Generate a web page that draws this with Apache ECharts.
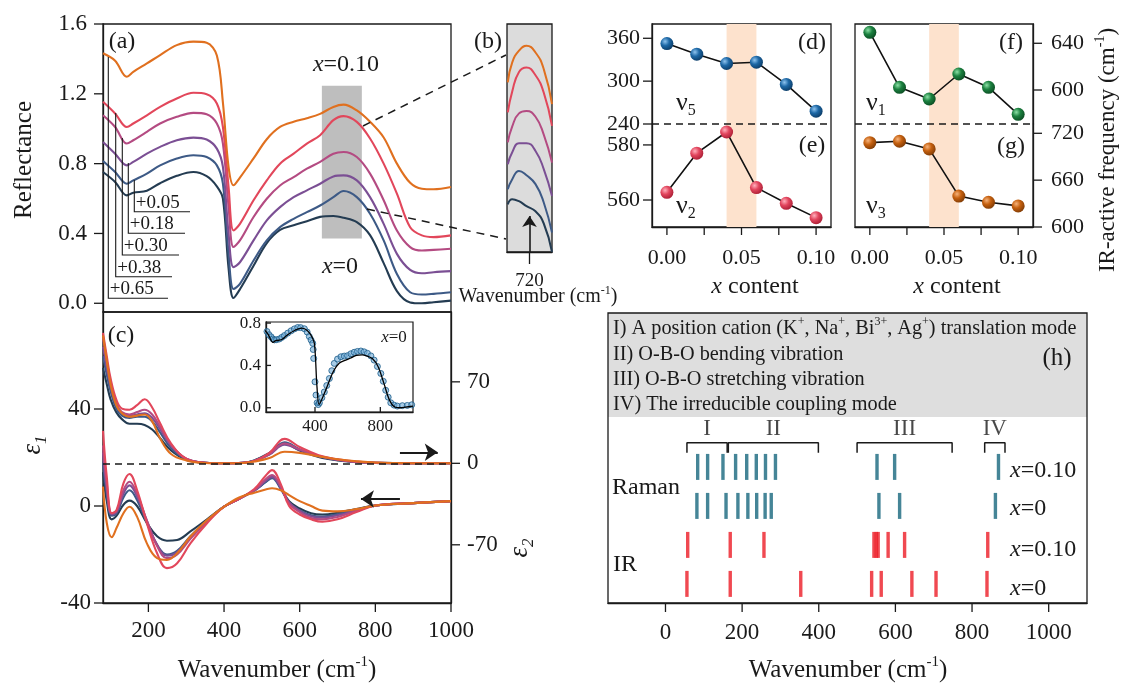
<!DOCTYPE html>
<html>
<head>
<meta charset="utf-8">
<script src="https://cdn.jsdelivr.net/npm/echarts@6.0.0/dist/echarts.min.js"></script>
<style>
html,body{margin:0;padding:0;background:#ffffff;}
#chart{width:1127px;height:686px;}
</style>
</head>
<body>
<div id="chart"></div>
<script>
// ================= DATA =================
const offsetLabels = ['+0.05', '+0.18', '+0.30', '+0.38', '+0.65'];

// (a) reflectance spectra as displayed (offsets included), x = 0 ... 0.10
const wnA = [80,112,143,160,196,231,275,319,354,381,397,412,425,442,478,513,548,584,619,654,689,716,751,786,822,857,892,923,954,1000];
const reflX000 = [0.752,0.695,0.618,0.633,0.645,0.688,0.730,0.752,0.728,0.670,0.600,0.200,0.030,0.080,0.215,0.345,0.420,0.447,0.470,0.495,0.500,0.490,0.465,0.390,0.230,0.070,0.005,0.000,0.006,0.015];
const reflX002 = [0.815,0.752,0.685,0.704,0.743,0.790,0.829,0.848,0.838,0.790,0.685,0.283,0.082,0.111,0.245,0.360,0.436,0.484,0.522,0.560,0.608,0.643,0.608,0.513,0.360,0.168,0.063,0.050,0.054,0.063];
const reflX004 = [0.924,0.857,0.790,0.810,0.857,0.896,0.934,0.949,0.938,0.886,0.781,0.398,0.207,0.235,0.360,0.475,0.551,0.608,0.647,0.685,0.727,0.733,0.704,0.608,0.455,0.283,0.191,0.172,0.178,0.184];
const reflX006 = [1.077,1.010,0.915,0.934,0.982,1.030,1.068,1.091,1.083,1.030,0.915,0.551,0.322,0.360,0.494,0.599,0.675,0.723,0.771,0.810,0.857,0.867,0.838,0.743,0.590,0.417,0.322,0.302,0.306,0.312];
const reflX008 = [1.154,1.087,1.010,1.030,1.077,1.125,1.173,1.206,1.198,1.145,1.010,0.666,0.417,0.455,0.590,0.704,0.800,0.857,0.915,0.963,1.049,1.072,1.039,0.944,0.800,0.628,0.436,0.389,0.379,0.389];
const reflX010 = [1.432,1.390,1.298,1.326,1.374,1.422,1.479,1.499,1.493,1.420,1.150,0.780,0.676,0.720,0.830,0.940,1.010,1.040,1.060,1.085,1.125,1.138,1.105,1.040,0.950,0.800,0.690,0.656,0.653,0.666];

// (b) magnified view around 720 cm-1
const wnB = [691,697,706,716,728,739,750];
const zoomX000 = [0.554,0.574,0.566,0.547,0.527,0.480,0.370];
const zoomX002 = [0.612,0.651,0.683,0.666,0.632,0.561,0.445];
const zoomX004 = [0.709,0.755,0.790,0.790,0.760,0.690,0.586];
const zoomX006 = [0.793,0.855,0.905,0.914,0.892,0.823,0.715];
const zoomX008 = [0.909,0.990,1.065,1.082,1.052,0.985,0.857];
const zoomX010 = [1.025,1.102,1.147,1.166,1.140,1.076,0.941];

// (c) dielectric functions
const wnE2 = [80,90,100,115,130,150,170,190,210,230,260,300,350,400,450,480,520,560,600,650,700,750,800,900,1000];
const eps2X000 = [82,68,55,44,38,34,34,33,29,22,11,3,0.5,0,0.5,2.5,9,17,11,5.5,2.5,1,0.3,0,0];
const eps2X002 = [92,76,62,47,41,39,40,40,36,27,13,3.5,0.5,0,0.5,2.5,8,18,12,6,3,1.2,0.4,0,0];
const eps2X004 = [100,82,66,50,43,41,42,43,39,30,15,4,0.5,0,0.5,2,7.5,16,11.5,6,3,1.2,0.4,0,0];
const eps2X006 = [108,88,70,52,44,42,44,46,42,32,16,4,0.5,0,0.5,2,8,17,12,6.5,3,1.2,0.5,0,0];
const eps2X008 = [112,92,73,55,47,46,50,55,48,35,17,4,0.5,0,0.5,2,9,21,14,7,3.5,1.5,0.5,0,0];
const eps2X010 = [110,88,68,50,43,40,41,42,36,22,8,2.5,0.3,0,0.3,1.5,4.5,10,9,6,3.5,1.8,0.7,0.1,0];

const wnE1 = [80,90,103,116,134,150,170,196,223,249,276,311,355,400,440,480,510,527,550,572,600,630,660,700,750,800,900,1000];
const eps1X000 = [14,2,-5.5,-4,0.5,2.2,0,-7,-12.5,-14.3,-14,-10.5,-5.5,-0.3,3,6.5,10,12,7.5,2,-1,-3,-3.5,-2.8,-1.2,0.2,1.2,2];
const eps1X002 = [18,5,-4,-3,3.5,6.5,2.5,-7,-16,-20,-18.5,-12.5,-6,-0.3,3,6.3,9.8,11.5,7,1.5,-1.8,-3.8,-4.3,-3.3,-1.5,0.2,1.2,2];
const eps1X004 = [22,7,-3.5,-2.5,5,8.5,4,-6,-16,-20.5,-19,-13,-6.3,-0.3,3,6.3,10.3,12,7.5,1.5,-2,-4.2,-4.8,-3.8,-1.8,0.2,1.2,2];
const eps1X006 = [25,9,-3,-2,6.5,10,5,-6,-16.5,-21.5,-20,-13.5,-6.5,-0.3,3,6.5,11,12.8,8,1,-2.5,-5,-5.5,-4.5,-2,0.2,1.2,2];
const eps1X008 = [31,12,-3,-1.6,9.3,13.2,6.6,-7.1,-19.5,-25.6,-23.6,-15.4,-7.1,-0.3,3,7,12.5,14.8,9,0,-3.5,-5.5,-6.5,-5.5,-2.5,0.2,1.2,2];
const eps1X010 = [8,-7,-12.9,-9,-3,-0.3,-4.4,-15.4,-21.5,-22.2,-19.5,-12.6,-5.8,-0.3,3.5,5.5,6.8,7.3,6.5,4.5,2,0,-1.9,-2.2,-1.3,0.2,1.2,2];

// (c) inset: measured reflectance of x=0 (points)
const insetWn = [106,118,131,142,152,165,182,197,213,233,254,274,294,312,335,352,365,376,386,389,392,400,406,413,420,427,442,457,472,488,503,518,538,559,579,599,620,640,660,681,701,721,742,762,782,803,818,833,848,864,884,904,935,965,992];
const insetRefl = [0.72,0.69,0.67,0.65,0.641,0.643,0.65,0.665,0.682,0.705,0.727,0.745,0.758,0.757,0.746,0.715,0.673,0.64,0.609,0.55,0.466,0.245,0.12,0.047,0.03,0.047,0.095,0.149,0.21,0.276,0.35,0.419,0.46,0.482,0.488,0.492,0.51,0.524,0.532,0.536,0.528,0.514,0.49,0.45,0.39,0.324,0.25,0.165,0.1,0.047,0.025,0.016,0.02,0.022,0.028];

// (d)-(g) mode frequencies vs x
const xContent = [0, 0.02, 0.04, 0.06, 0.08, 0.10];
const nu5 = [352.6, 337.7, 324.7, 326.5, 295.4, 258.0];
const nu2 = [562.8, 577.0, 584.7, 564.5, 558.8, 553.6];
const nu1 = [649.4, 602.3, 592.3, 613.7, 602.3, 579.2];
const nu3 = [708.0, 709.8, 700.0, 639.6, 631.6, 627.0];
const shadeRange = [0.04, 0.06];

// (h) Raman / IR mode positions
const ramanX010 = [84,110,150,183,212,237,261,287,552,598,869];
const ramanX0   = [82,110,158,189,215,238,260,276,557,611,861];
const irX010    = [58,169,257,544,550,555,581,624,841];
const irX0      = [56,169,353,538,563,643,706,839];
const bracketNames  = ['I','II','III','IV'];
const bracketRanges = [[56,161],[164,399],[500,748],[833,886]];

// tick labels
const reflTicks = [0, 0.4, 0.8, 1.2, 1.6];
const wnTicks = [200, 400, 600, 800, 1000];
const eps1Ticks = [-40, 0, 40];
const eps2Ticks = [-70, 0, 70];
const insetXTicks = [400, 800];
const insetYTicks = [0, 0.4, 0.8];
const xcLabelTicks = [0, 0.05, 0.10];
const xcMinorTicks = [0, 0.025, 0.05, 0.075, 0.10];
const hTicks = [0, 200, 400, 600, 800, 1000];
const dTicks = [240, 300, 360], eTicks = [560, 580], fTicks = [600, 640], gTicks = [600, 660, 720];

// ================= STYLE =================
const F = 'Liberation Serif';
const INK = '#1a1a1a';
const COL = ['#243c52', '#3d5a86', '#7b4f94', '#b44b82', '#e2475b', '#e0701f'];
const RAMAN = '#17667d';
const IRC = '#ec1c26';
const zip = (a, b) => a.map((v, i) => [v, b[i]]);

const chart = echarts.init(document.getElementById('chart'));

function hX(gi, min, max) { return {type:'value', gridIndex:gi, min:min, max:max, show:false}; }
function hY(gi, min, max) { return {type:'value', gridIndex:gi, min:min, max:max, show:false}; }
function vAxis(gi, min, max, labels, o) {
  o = o || {};
  const ax = {
    type:'value', gridIndex:gi, min:min, max:max,
    axisLine:{show:true, onZero:false, lineStyle:{color:INK, width:1.3}}, splitLine:{show:false},
    axisTick:{show:false},
    axisLabel:{show:true, customValues:labels, margin:o.margin || 12, fontSize:o.fs || 22, fontFamily:F, color:INK,
      formatter:o.fmt || (v => String(v))}
  };
  if (o.position) ax.position = o.position;
  return ax;
}

const grids = [
  {left:103, top:24, width:348, height:288, show:true, borderColor:INK, borderWidth:1.3, backgroundColor:'#fff'},   //0 (a)
  {left:507, top:24, width:45, height:228, show:true, borderColor:INK, borderWidth:1.3, backgroundColor:'#dcdcdc'},  //1 (b)
  {left:103, top:312, width:348, height:291, show:true, borderColor:INK, borderWidth:1.3},                           //2 (c)
  {left:266, top:322, width:147, height:90, show:true, borderColor:INK, borderWidth:1.2, backgroundColor:'#fff'},   //3 inset
  {left:652, top:24, width:179, height:100},   //4 (d)
  {left:652, top:124, width:179, height:103},  //5 (e)
  {left:855, top:24, width:178, height:100},   //6 (f)
  {left:855, top:124, width:178, height:103},  //7 (g)
  {left:608, top:417, width:479, height:186},  //8 (h) data
  {left:652, top:24, width:179, height:203, show:true, borderColor:INK, borderWidth:1.3},  //9 frame d/e
  {left:855, top:24, width:178, height:203, show:true, borderColor:INK, borderWidth:1.3},  //10 frame f/g
  {left:608, top:313, width:479, height:104, show:true, borderWidth:0, backgroundColor:'#dedede'}, //11 grey
  {left:608, top:313, width:479, height:290, show:true, borderColor:INK, borderWidth:1.3}   //12 frame h
];

const D_MIN = 240, D_MAX = 380, E_MIN = 550.2, E_MAX = 587.6;
const F_MIN = 570.9, F_MAX = 656.5, G_MIN = 600, G_MAX = 731.9;

const xAxes = [
  {type:'value', gridIndex:0, min:80, max:1000, axisLine:{show:false, onZero:false}, axisTick:{show:false}, axisLabel:{show:false}, splitLine:{show:false}},
  vAxis(1, 690, 750, [720], {margin:20, fs:19}),
  vAxis(2, 80, 1000, wnTicks, {margin:16, fs:23}),
  vAxis(3, 100, 1000, insetXTicks, {margin:6, fs:17}),
  hX(4, -0.01, 0.11),
  vAxis(5, -0.01, 0.11, xcLabelTicks, {margin:20, fs:22, fmt:v => v.toFixed(2)}),
  hX(6, -0.01, 0.11),
  vAxis(7, -0.01, 0.11, xcLabelTicks, {margin:20, fs:22, fmt:v => v.toFixed(2)}),
  vAxis(8, -150, 1100, hTicks, {margin:18, fs:23}),
  hX(9, 0, 1), hX(10, 0, 1), hX(11, 0, 1), hX(12, 0, 1)
];
const yAxes = [
  vAxis(0, -0.05, 1.6, reflTicks, {margin:16, fs:23, fmt:v => v.toFixed(1)}),
  hY(1, 0.37, 1.25),
  vAxis(2, -40, 80, eps1Ticks, {margin:12, fs:23}),
  vAxis(2, -120, 130, eps2Ticks, {margin:16, fs:23, position:'right'}),
  vAxis(3, -0.04, 0.81, insetYTicks, {margin:5, fs:17, fmt:v => v.toFixed(1)}),
  vAxis(4, D_MIN, D_MAX, dTicks, {margin:12, fs:22}),
  vAxis(5, E_MIN, E_MAX, eTicks, {margin:12, fs:22}),
  vAxis(6, F_MIN, F_MAX, fTicks, {margin:18, fs:22, position:'right'}),
  vAxis(7, G_MIN, G_MAX, gTicks, {margin:18, fs:22, position:'right'}),
  hY(8, -0.49, 4.28),
  hY(9, 0, 1), hY(10, 0, 1), hY(11, 0, 1), hY(12, 0, 1)
];

const series = [];
const reflSets = [reflX000, reflX002, reflX004, reflX006, reflX008, reflX010];
const zoomSets = [zoomX000, zoomX002, zoomX004, zoomX006, zoomX008, zoomX010];
const eps2Sets = [eps2X000, eps2X002, eps2X004, eps2X006, eps2X008, eps2X010];
const eps1Sets = [eps1X000, eps1X002, eps1X004, eps1X006, eps1X008, eps1X010];

// (a) grey highlight box
series.push({type:'line', xAxisIndex:0, yAxisIndex:0, data:[], z:1, silent:true,
  markArea:{silent:true, itemStyle:{color:'#bebebe'}, data:[[{coord:[658.6, 0.371]}, {coord:[764.3, 1.246]}]]}});
reflSets.forEach((arr, i) => series.push({type:'line', xAxisIndex:0, yAxisIndex:0, data:zip(wnA, arr),
  smooth:0.35, symbol:'none', z:3, lineStyle:{color:COL[i], width:2.1}}));

// (b)
zoomSets.forEach((arr, i) => series.push({type:'line', xAxisIndex:1, yAxisIndex:1, data:zip(wnB, arr),
  smooth:0.5, symbol:'none', z:3, lineStyle:{color:COL[i], width:2}}));
series.push({type:'line', xAxisIndex:1, yAxisIndex:1, data:[], z:4,
  markLine:{silent:true, symbol:['none','arrow'], symbolSize:11, label:{show:false},
    lineStyle:{color:INK, width:1.6, type:'solid'},
    data:[[{coord:[720, 0.37]}, {coord:[720, 0.509]}]]}});

// (c) eps2 (right axis) and eps1 (left axis)
eps2Sets.forEach((arr, i) => series.push({type:'line', xAxisIndex:2, yAxisIndex:3, data:zip(wnE2, arr),
  smooth:0.4, symbol:'none', z:3, lineStyle:{color:COL[i], width:2.1}}));
eps1Sets.forEach((arr, i) => series.push({type:'line', xAxisIndex:2, yAxisIndex:2, data:zip(wnE1, arr),
  smooth:0.4, symbol:'none', z:3, lineStyle:{color:COL[i], width:2.1}}));
series.push({type:'line', xAxisIndex:2, yAxisIndex:3, data:[], z:2,
  markLine:{silent:true, symbol:'none', label:{show:false}, lineStyle:{color:INK, width:1.5, type:[7,5]},
    data:[{yAxis:0}]}});
series.push({type:'line', xAxisIndex:2, yAxisIndex:3, data:[], z:5,
  markLine:{silent:true, symbol:['none','arrow'], symbolSize:13, label:{show:false},
    lineStyle:{color:INK, width:2, type:'solid'}, data:[[{coord:[865, 9.5]}, {coord:[965, 9.5]}]]}});
series.push({type:'line', xAxisIndex:2, yAxisIndex:2, data:[], z:5,
  markLine:{silent:true, symbol:['none','arrow'], symbolSize:13, label:{show:false},
    lineStyle:{color:INK, width:2, type:'solid'}, data:[[{coord:[865, 2.9]}, {coord:[762, 2.9]}]]}});

// inset
series.push({type:'scatter', xAxisIndex:3, yAxisIndex:4, data:zip(insetWn, insetRefl), symbolSize:6, z:6,
  itemStyle:{color:'rgba(110,170,215,0.75)', borderColor:'#1b5c8a', borderWidth:1}});
series.push({type:'line', xAxisIndex:3, yAxisIndex:4, data:zip(wnA, reflX000), smooth:0.35, symbol:'none', z:7,
  lineStyle:{color:'#000', width:1.3}});

// (d)-(g)
function sphere(hi, mid, dark) {
  return {type:'radial', x:0.36, y:0.34, r:0.72, colorStops:[{offset:0, color:hi}, {offset:0.45, color:mid}, {offset:1, color:dark}]};
}
const panelsDG = [
  {xi:4, yi:5, data:nu5, c:sphere('#8ec3ee', '#1d68a6', '#0b3a64'), divider:D_MIN},
  {xi:5, yi:6, data:nu2, c:sphere('#ffb0bc', '#e2465e', '#a81c33')},
  {xi:6, yi:7, data:nu1, c:sphere('#8be0a5', '#1c8140', '#0a4a21'), divider:F_MIN},
  {xi:7, yi:8, data:nu3, c:sphere('#f6b27a', '#c5600f', '#7d3a05')}
];
panelsDG.forEach(p => {
  series.push({type:'line', xAxisIndex:p.xi, yAxisIndex:p.yi, data:[], z:1, silent:true,
    markArea:{silent:true, itemStyle:{color:'#fde2cd'}, data:[[{xAxis:shadeRange[0]}, {xAxis:shadeRange[1]}]]}});
  const s = {type:'line', xAxisIndex:p.xi, yAxisIndex:p.yi, data:zip(xContent, p.data), z:4,
    symbol:'circle', symbolSize:13, showSymbol:true, lineStyle:{color:'#111', width:1.6},
    itemStyle:{color:p.c, borderWidth:0}};
  if (p.divider !== undefined) {
    s.markLine = {silent:true, symbol:'none', label:{show:false}, lineStyle:{color:INK, width:1.5, type:[7,5]},
      data:[{yAxis:p.divider}]};
  }
  series.push(s);
});

// (h)
const hRows = [[ramanX010, 3, RAMAN], [ramanX0, 2, RAMAN], [irX010, 1, IRC], [irX0, 0, IRC]];
hRows.forEach(r => series.push({type:'scatter', xAxisIndex:8, yAxisIndex:9, data:r[0].map(v => [v, r[1]]),
  symbol:'rect', symbolSize:[3.4, 26], itemStyle:{color:r[2]}, z:4}));
bracketRanges.forEach(b => series.push({type:'line', xAxisIndex:8, yAxisIndex:9,
  data:[[b[0], 3.36], [b[0], 3.62], [b[1], 3.62], [b[1], 3.36]], symbol:'none', z:4,
  lineStyle:{color:INK, width:1.5}}));
series.push({type:'scatter', xAxisIndex:8, yAxisIndex:9, symbolSize:0, z:5,
  data:bracketRanges.map((b, i) => ({name:bracketNames[i], value:[(b[0] + b[1]) / 2, 3.97]})),
  label:{show:true, position:'inside', formatter:p => p.name, fontFamily:F, fontSize:23, color:INK}});

// ================= ANNOTATIONS =================
const g = [];
function T(x, y, text, fs, o) {
  o = o || {};
  const st = {text:text, x:0, y:0, fontSize:fs, fontFamily:F, fill:INK,
    align:o.align || 'center', verticalAlign:o.va || 'middle'};
  if (o.italic) st.fontStyle = 'italic';
  if (o.rich) st.rich = o.rich;
  g.push({type:'text', x:x, y:y, rotation:o.rot || 0, z:100, style:st});
}
function richSup(fs) {
  return {t:{fontSize:fs, fontFamily:F, fill:INK, lineHeight:fs * 1.25},
          s:{fontSize:Math.round(fs * 0.6), fontFamily:F, fill:INK, lineHeight:Math.round(fs * 0.6), verticalAlign:'top'},
          i:{fontSize:fs, fontFamily:F, fill:INK, fontStyle:'italic', lineHeight:fs * 1.25},
          b:{fontSize:Math.round(fs * 0.62), fontFamily:F, fill:INK, lineHeight:Math.round(fs * 0.62), verticalAlign:'bottom'},
          bi:{fontSize:Math.round(fs * 0.62), fontFamily:F, fill:INK, fontStyle:'italic', lineHeight:Math.round(fs * 0.62), verticalAlign:'bottom'}};
}
const wnTitle = '{t|Wavenumber (cm}{s|-1}{t|)}';

// axis titles
T(24, 160, 'Reflectance', 25, {rot:Math.PI / 2});
T(33, 445, '{i|ε}{bi|1}', 27, {rot:Math.PI / 2, rich:richSup(27)});
T(520, 548, '{i|ε}{bi|2}', 27, {rot:Math.PI / 2, rich:richSup(27)});
T(277, 670, wnTitle, 25, {rich:richSup(25)});
T(848, 670, wnTitle, 25, {rich:richSup(25)});
T(538, 297, wnTitle, 20, {rich:richSup(20)});
T(755, 287, '{i|x}{t| content}', 24, {rich:richSup(24)});
T(957, 287, '{i|x}{t| content}', 24, {rich:richSup(24)});
T(1108, 150, '{t|IR-active frequency (cm}{s|-1}{t|)}', 23, {rot:Math.PI / 2, rich:richSup(23)});

// panel labels
T(122, 42, '(a)', 24); T(488, 42, '(b)', 24); T(121, 336, '(c)', 24);
T(812, 43, '(d)', 24); T(812, 146, '(e)', 24); T(1011, 43, '(f)', 24); T(1011, 147, '(g)', 24);
T(1057, 358, '(h)', 25);

// nu labels
T(676, 103, '{t|ν}{b|5}', 26, {align:'left', rich:richSup(26)});
T(676, 206, '{t|ν}{b|2}', 26, {align:'left', rich:richSup(26)});
T(866, 103, '{t|ν}{b|1}', 26, {align:'left', rich:richSup(26)});
T(866, 206, '{t|ν}{b|3}', 26, {align:'left', rich:richSup(26)});

// (a) composition labels
T(346, 65, '{i|x}{t|=0.10}', 24, {rich:richSup(24)});
T(340, 267, '{i|x}{t|=0}', 24, {rich:richSup(24)});
T(394, 338, '{i|x}{t|=0}', 17, {rich:richSup(17)});

// (a) offset leader lines + labels
const leaders = [
  {x:134.3, top:180, y:211.7, r:190},
  {x:128.3, top:163, y:233.3, r:185},
  {x:122.3, top:138, y:255.0, r:179},
  {x:115.7, top:113, y:276.7, r:172},
  {x:108.3, top:57,  y:298.3, r:168}
];
leaders.forEach((l, i) => {
  g.push({type:'polyline', z:90, shape:{points:[[l.x, l.top], [l.x, l.y], [l.r, l.y]]},
    style:{stroke:INK, lineWidth:1.1, fill:null}});
  T(l.x + 1.5, l.y - 9, offsetLabels[i], 19, {align:'left'});
});

// dashed connectors (a) -> (b)
g.push({type:'line', z:90, shape:{x1:363, y1:126, x2:506, y2:55}, style:{stroke:INK, lineWidth:1.5, lineDash:[8, 6]}});
g.push({type:'line', z:90, shape:{x1:367, y1:209, x2:506, y2:239}, style:{stroke:INK, lineWidth:1.5, lineDash:[8, 6]}});

// (h) legend box text
const hText = [
  '{t|I) A position cation (K}{s|+}{t|, Na}{s|+}{t|, Bi}{s|3+}{t|, Ag}{s|+}{t|) translation mode}',
  '{t|II) O-B-O bending vibration}',
  '{t|III) O-B-O stretching vibration}',
  '{t|IV) The irreducible coupling mode}'
];
[329, 355, 380, 405].forEach((y, i) => T(613, y, hText[i], 20.3, {align:'left', rich:richSup(20.3)}));
T(612, 488, 'Raman', 24, {align:'left'});
T(613, 565, 'IR', 24, {align:'left'});
[[471, '=0.10'], [509, '=0'], [550, '=0.10'], [589, '=0']].forEach(r =>
  T(1010, r[0], '{i|x}{t|' + r[1] + '}', 24, {align:'left', rich:richSup(24)}));

chart.setOption({
  animation:false,
  backgroundColor:'#ffffff',
  textStyle:{fontFamily:F, color:INK},
  grid:grids, xAxis:xAxes, yAxis:yAxes, series:series, graphic:g
});

// ===== axis ticks, placed through the axes' own scales =====
// [axis kind, axis index, grid index, values, side, length, inward]
const tickSpecs = [
  ['y', 0, 0, reflTicks, 'left', 9, false],
  ['x', 1, 1, [720], 'bottom', 12, false],
  ['x', 2, 2, wnTicks, 'bottom', 9, false],
  ['y', 2, 2, eps1Ticks, 'left', 9, false],
  ['y', 3, 2, eps2Ticks, 'right', 9, false],
  ['x', 3, 3, insetXTicks, 'bottom', 5, true],
  ['y', 4, 3, insetYTicks, 'left', 5, true],
  ['y', 5, 4, dTicks, 'left', 9, false],
  ['y', 6, 5, eTicks, 'left', 9, false],
  ['x', 5, 5, xcMinorTicks, 'bottom', 8, false],
  ['y', 7, 6, fTicks, 'right', 9, false],
  ['y', 8, 7, gTicks, 'right', 9, false],
  ['x', 7, 7, xcMinorTicks, 'bottom', 8, false],
  ['x', 8, 8, hTicks, 'bottom', 9, false]
];
const ticks = [];
tickSpecs.forEach(s => {
  const gr = grids[s[2]];
  s[3].forEach(v => {
    let x1, y1, x2, y2;
    if (s[0] === 'x') {
      const px = chart.convertToPixel({xAxisIndex:s[1]}, v);
      const base = gr.top + gr.height;
      x1 = x2 = px; y1 = base; y2 = s[6] ? base - s[5] : base + s[5];
    } else {
      const py = chart.convertToPixel({yAxisIndex:s[1]}, v);
      const base = s[4] === 'left' ? gr.left : gr.left + gr.width;
      const dir = (s[4] === 'left' ? -1 : 1) * (s[6] ? -1 : 1);
      y1 = y2 = py; x1 = base; x2 = base + dir * s[5];
    }
    ticks.push({type:'line', z:95, shape:{x1:x1, y1:y1, x2:x2, y2:y2}, style:{stroke:INK, lineWidth:1.3}});
  });
});
chart.setOption({graphic:g.concat(ticks)});
</script>
</body>
</html>
